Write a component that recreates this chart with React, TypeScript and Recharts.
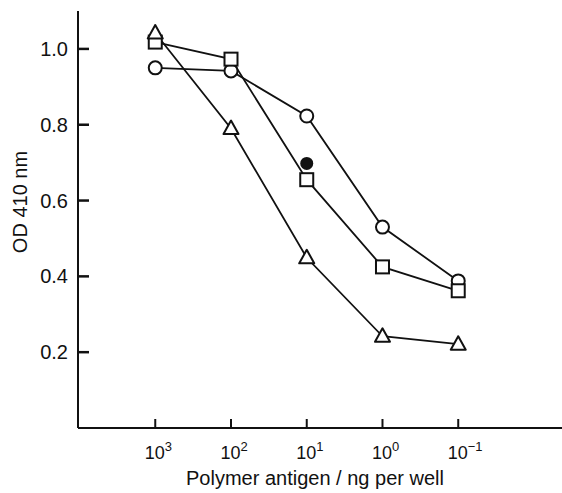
import React from "react";
import { ComposedChart, Line, Scatter, XAxis, YAxis } from "recharts";

// antigen amount per well, as powers of ten (10^3 ... 10^-1)
const exponents = [3, 2, 1, 0, -1];
const circleOD = [0.95, 0.942, 0.823, 0.53, 0.388];
const squareOD = [1.018, 0.973, 0.655, 0.425, 0.362];
const triangleOD = [1.042, 0.79, 0.449, 0.242, 0.221];

// single filled point
const filledExponents = [1];
const filledOD = [0.698];

const yTicks = [0.2, 0.4, 0.6, 0.8, 1.0];

const FONT = '"Liberation Sans", Arial, Helvetica, sans-serif';
const INK = "#111";

const chartData = exponents.map((e, i) => ({
  x: -e,
  circle: circleOD[i],
  square: squareOD[i],
  triangle: triangleOD[i],
}));

const filledData = filledExponents.map((e, i) => ({ x: -e, y: filledOD[i] }));

const CircleDot = (props: any) => {
  const { cx, cy, index } = props;
  if (cx == null || cy == null) return <g key={index} />;
  return <circle key={index} cx={cx} cy={cy} r={6.5} fill="#fff" stroke={INK} strokeWidth={2} />;
};

const SquareDot = (props: any) => {
  const { cx, cy, index } = props;
  if (cx == null || cy == null) return <g key={index} />;
  return <rect key={index} x={cx - 6.5} y={cy - 6.5} width={13} height={13} fill="#fff" stroke={INK} strokeWidth={2} />;
};

const TriangleDot = (props: any) => {
  const { cx, cy, index } = props;
  if (cx == null || cy == null) return <g key={index} />;
  const pts = `${cx},${cy - 8} ${cx - 7.5},${cy + 5.5} ${cx + 7.5},${cy + 5.5}`;
  return <polygon key={index} points={pts} fill="#fff" stroke={INK} strokeWidth={2} strokeLinejoin="round" />;
};

const FilledDot = (props: any) => {
  const { cx, cy } = props;
  return <circle cx={cx} cy={cy} r={6.5} fill={INK} />;
};

const XTick = (props: any) => {
  const { x, y, payload } = props;
  const exp = -payload.value;
  const sup = exp < 0 ? "\u2212" + Math.abs(exp) : String(exp);
  return (
    <g>
      <line x1={x} y1={y} x2={x} y2={y - 9} stroke={INK} strokeWidth={2} />
      <text x={x - 10.5} y={y + 31} fontFamily={FONT} fontSize={18} fill={INK}>
        10
        <tspan dy={-8} fontSize={13}>{sup}</tspan>
      </text>
    </g>
  );
};

const YTick = (props: any) => {
  const { x, y, payload } = props;
  return (
    <g>
      <line x1={x} y1={y} x2={x + 11} y2={y} stroke={INK} strokeWidth={2.5} />
      <text x={x - 10} y={y} dy={7} textAnchor="end" fontFamily={FONT} fontSize={20} fill={INK}>
        {payload.value.toFixed(1)}
      </text>
    </g>
  );
};

const XLabel = (props: any) => {
  const { viewBox } = props;
  return (
    <text
      x={viewBox.x + viewBox.width / 2 - 5}
      y={viewBox.y + 57}
      textAnchor="middle"
      fontFamily={FONT}
      fontSize={20}
      fill={INK}
    >
      Polymer antigen / ng per well
    </text>
  );
};

const YLabel = (props: any) => {
  const { viewBox } = props;
  const cx = viewBox.x + 20;
  const cy = 202;
  return (
    <text
      x={cx}
      y={cy}
      transform={`rotate(-90 ${cx} ${cy})`}
      textAnchor="middle"
      dominantBaseline="central"
      fontFamily={FONT}
      fontSize={20}
      fill={INK}
    >
      OD 410 nm
    </text>
  );
};

export default function App() {
  return (
    <div style={{ position: "absolute", left: 0, top: 0, background: "#fff" }}>
      <ComposedChart
        width={562}
        height={493}
        data={chartData}
        margin={{ top: 11, right: 0, left: 0, bottom: 0 }}
      >
        <XAxis
          type="number"
          dataKey="x"
          domain={[-4.02, 2.37]}
          ticks={[-3, -2, -1, 0, 1]}
          allowDataOverflow
          height={65}
          tickSize={0}
          tickMargin={0}
          tickLine={false}
          axisLine={{ stroke: INK, strokeWidth: 2 }}
          tick={<XTick />}
          label={<XLabel />}
        />
        <YAxis
          type="number"
          domain={[0, 1.1]}
          ticks={yTicks}
          allowDataOverflow
          width={78}
          tickSize={0}
          tickMargin={0}
          tickLine={false}
          axisLine={{ stroke: INK, strokeWidth: 2 }}
          tick={<YTick />}
          label={<YLabel />}
        />
        <Line
          dataKey="circle"
          stroke={INK}
          strokeWidth={1.8}
          dot={CircleDot}
          activeDot={false}
          isAnimationActive={false}
        />
        <Line
          dataKey="square"
          stroke={INK}
          strokeWidth={1.8}
          dot={SquareDot}
          activeDot={false}
          isAnimationActive={false}
        />
        <Line
          dataKey="triangle"
          stroke={INK}
          strokeWidth={1.8}
          dot={TriangleDot}
          activeDot={false}
          isAnimationActive={false}
        />
        <Scatter
          data={filledData}
          dataKey="y"
          shape={FilledDot}
          isAnimationActive={false}
        />
      </ComposedChart>
    </div>
  );
}
